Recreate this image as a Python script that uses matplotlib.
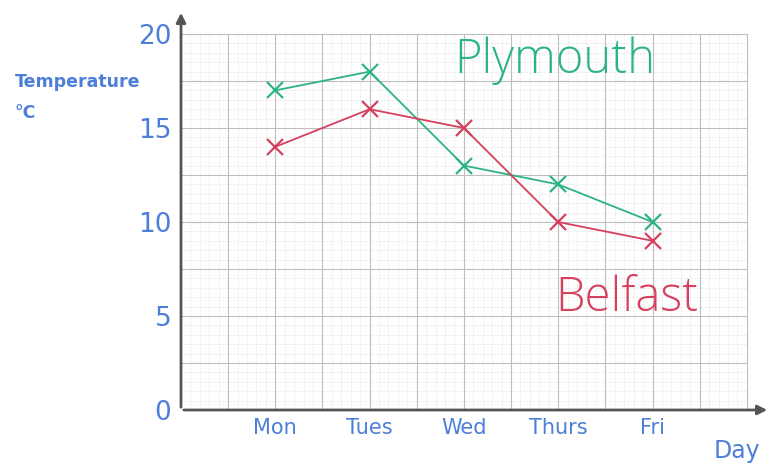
import matplotlib
matplotlib.use('Agg')
import matplotlib.pyplot as plt
import numpy as np

# 数据
days = ['Mon', 'Tues', 'Wed', 'Thurs', 'Fri']
plymouth = [17, 18, 13, 12, 10]
belfast = [14, 16, 15, 10, 9]
y_ticks = [0, 5, 10, 15, 20]

blue = '#4d7fd8'
green = '#2db387'
red = '#d6405e'

fig = plt.figure(figsize=(7.7, 4.73), dpi=100)
ax = fig.add_axes([181 / 770, 63 / 473, 589 / 770, 400 / 473])
ax.set_xlim(0, 589 / 94.3)
ax.set_ylim(0, 400 / 18.8)
for s in ax.spines.values():
    s.set_visible(False)

# 方格纸
for x in np.arange(0.1, 6.01, 0.1):
    ax.plot([x, x], [0, 20], color='#cccccc', lw=0.4, ls=(0, (1, 1.5)), zorder=0)
for y in np.arange(0.5, 20.01, 0.5):
    ax.plot([0, 6], [y, y], color='#cccccc', lw=0.4, ls=(0, (1, 1.5)), zorder=0)
for x in np.arange(0.5, 6.01, 0.5):
    ax.plot([x, x], [0, 20], color='#bdbdbd', lw=0.8, zorder=0)
for y in np.arange(2.5, 20.01, 2.5):
    ax.plot([0, 6], [y, y], color='#bdbdbd', lw=0.8, zorder=0)

# 坐标轴和箭头
ax.annotate('', xy=(0, 400 / 18.8), xytext=(0, 0),
            arrowprops=dict(arrowstyle='-|>', color='#555555', lw=2, mutation_scale=14))
ax.annotate('', xy=(589 / 94.3, 0), xytext=(0, 0),
            arrowprops=dict(arrowstyle='-|>', color='#555555', lw=2, mutation_scale=14))

# 折线
x_pos = np.arange(1, len(days) + 1)
ax.plot(x_pos, plymouth, color=green, lw=1.3, marker='x', ms=11, mew=1.6, zorder=3)
ax.plot(x_pos, belfast, color=red, lw=1.3, marker='x', ms=11, mew=1.6, zorder=3)

# 刻度
ax.set_xticks(x_pos)
ax.set_xticklabels(days, fontsize=15, color=blue)
ax.set_yticks(y_ticks)
ax.set_yticklabels([str(v) for v in y_ticks], fontsize=19, color=blue)
ax.tick_params(length=0, pad=7)
ax.tick_params(axis='x', pad=6)

fig.text(15 / 770, 1 - 82 / 473, 'Temperature', fontsize=12.5, color=blue,
         fontweight='semibold', va='center')
fig.text(15 / 770, 1 - 113 / 473, '°C', fontsize=12.5, color=blue,
         fontweight='semibold', va='center')
fig.text(737 / 770, 1 - 451 / 473, 'Day', fontsize=17, color=blue, ha='center', va='center')

ax.text(2.9, 18.6, 'Plymouth', fontsize=34, color=green, fontweight='light',
        family='Open Sans', va='center', ha='left')
ax.text(3.97, 5.9, 'Belfast', fontsize=34, color=red, fontweight='light',
        family='Open Sans', va='center', ha='left')

fig.savefig('out.png', dpi=100, facecolor='white')
